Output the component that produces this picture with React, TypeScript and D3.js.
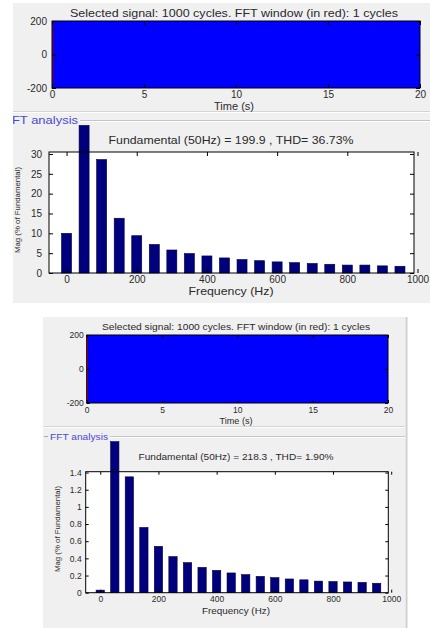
import React, { useRef, useEffect } from "react"
import * as d3 from "d3"

// harmonic frequencies (Hz) shown in both spectra
const harmonicFreq = [0, 50, 100, 150, 200, 250, 300, 350, 400, 450, 500, 550, 600, 650, 700, 750, 800, 850, 900, 950]

// magnitudes, % of fundamental
const magBefore = [10, 37.2, 28.6, 13.8, 9.4, 7.2, 5.8, 4.9, 4.3, 3.8, 3.4, 3.1, 2.8, 2.6, 2.4, 2.2, 2.0, 2.0, 1.8, 1.7]
const magAfter = [0.03, 1.76, 1.35, 0.76, 0.54, 0.42, 0.35, 0.295, 0.26, 0.23, 0.21, 0.19, 0.175, 0.16, 0.15, 0.135, 0.13, 0.125, 0.12, 0.11]

// signal envelope (1000 cycles squeezed into the axes -> solid band)
const signalTime = [0, 20]
const envelopeBefore = [273, 273]
const envelopeAfter = [218.3, 218.3]
const fftWindow = [0, 0.02]

const timeTicks = [0, 5, 10, 15, 20]
const signalTicks = [-200, 0, 200]
const freqTicks = [0, 200, 400, 600, 800, 1000]
const magTicksBefore = [0, 5, 10, 15, 20, 25, 30]
const magTicksAfter = [0, 0.2, 0.4, 0.6, 0.8, 1, 1.2, 1.4]

const signalTitle = "Selected signal: 1000 cycles. FFT window (in red): 1 cycles"
const titleBefore = "Fundamental (50Hz) = 199.9 , THD= 36.73%"
const titleAfter = "Fundamental (50Hz) = 218.3 , THD= 1.90%"

const FONT = "'Liberation Sans', Arial, sans-serif"
const TEXT = "#2a2a2a"

const label = (g, x, y, fs, len, txt) => {
    let t = g.append("text")
        .attr("x", x).attr("y", y)
        .attr("text-anchor", "middle")
        .attr("font-size", fs).attr("fill", TEXT)
        .text(txt)
    if (len) t.attr("textLength", len).attr("lengthAdjust", "spacingAndGlyphs")
    return t
}

const frame = (g, x, y, o, xt, yt, fmt) => {
    let tl = o.tick
    let axisX = g.append("g").attr("transform", `translate(0,${o.bottom})`)
        .call(d3.axisBottom(x).tickValues(xt).tickSize(-tl).tickPadding(o.padX).tickFormat(d => d))
    let axisX2 = g.append("g").attr("transform", `translate(0,${o.top})`)
        .call(d3.axisTop(x).tickValues(xt).tickSize(-tl).tickFormat(() => ""))
    let axisY = g.append("g").attr("transform", `translate(${o.left},0)`)
        .call(d3.axisLeft(y).tickValues(yt).tickSize(-tl).tickPadding(o.padY).tickFormat(fmt))
    let axisY2 = g.append("g").attr("transform", `translate(${o.right},0)`)
        .call(d3.axisRight(y).tickValues(yt).tickSize(-tl).tickFormat(() => ""))
    for (let a of [axisX, axisX2, axisY, axisY2]) {
        a.select(".domain").remove()
        a.selectAll("line").attr("stroke", "#000")
        a.selectAll("text").attr("font-size", o.tfs).attr("fill", TEXT).attr("font-family", FONT)
    }
    g.append("rect")
        .attr("x", o.left).attr("y", o.top)
        .attr("width", o.right - o.left).attr("height", o.bottom - o.top)
        .attr("fill", "none").attr("stroke", "#000").attr("stroke-width", 1)
}

const drawSignal = (svg, o, envelope) => {
    let x = d3.scaleLinear().domain([0, 20]).range([o.left, o.right])
    let y = d3.scaleLinear().domain([-200, 200]).range([o.bottom, o.top])
    let g = svg.append("g")
    let clipId = "clip" + o.id
    g.append("clipPath").attr("id", clipId)
        .append("rect")
        .attr("x", o.left).attr("y", o.top)
        .attr("width", o.right - o.left).attr("height", o.bottom - o.top)

    let rows = signalTime.map((t, i) => ({t, v: envelope[i]}))
    let area = d3.area()
        .x(d => x(d.t))
        .y0(d => y(-d.v))
        .y1(d => y(d.v))

    g.append("rect")
        .attr("x", o.left).attr("y", o.top)
        .attr("width", o.right - o.left).attr("height", o.bottom - o.top)
        .attr("fill", "white")
    g.append("path").datum(rows)
        .attr("clip-path", `url(#${clipId})`)
        .attr("d", area)
        .attr("fill", "#0000ff")
    g.append("path").datum(fftWindow.map(t => ({t, v: envelope[0]})))
        .attr("clip-path", `url(#${clipId})`)
        .attr("d", area)
        .attr("fill", "#b00000")
        .attr("stroke", "#b00000")
        .attr("stroke-width", 1.6)

    frame(g, x, y, o, timeTicks, signalTicks, d => d)

    label(g, o.cx, o.titleY, o.fs, o.titleLen, signalTitle)
    label(g, o.cx, o.xlabY, o.fs, o.xlabLen, "Time (s)")
}

const drawFft = (svg, o, mags, title, yMax, yt) => {
    let x = d3.scaleLinear().domain([-50, 990]).range([o.left, o.right])
    let y = d3.scaleLinear().domain([0, yMax]).range([o.bottom, o.top])
    let g = svg.append("g")

    g.append("rect")
        .attr("x", o.left).attr("y", o.top)
        .attr("width", o.right - o.left).attr("height", o.bottom - o.top)
        .attr("fill", "white")

    let bw = (x(50) - x(0)) * 0.57
    g.selectAll(".bar")
        .data(harmonicFreq.map((f, i) => ({f, m: mags[i]})))
        .enter()
        .append("rect")
            .attr("x", d => x(d.f) - bw / 2)
            .attr("y", d => y(d.m))
            .attr("width", bw)
            .attr("height", d => y(0) - y(d.m))
            .attr("fill", "#00007f")
            .attr("stroke", "#000033")
            .attr("stroke-width", 0.6)

    frame(g, x, y, o, freqTicks, yt, d => d3.format("~g")(d))

    label(g, o.cx, o.titleY, o.fs, o.titleLen, title)
    label(g, o.cx, o.xlabY, o.fs, o.xlabLen, "Frequency (Hz)")
    label(g, 0, 0, 7.5, o.ylabLen, "Mag (% of Fundamental)")
        .attr("transform", `translate(${o.ylabX},${o.ylabCy}) rotate(-90)`)
}

const panelBox = (svg, b) => {
    svg.append("rect")
        .attr("x", b.x0).attr("y", b.y0)
        .attr("width", b.x1 - b.x0).attr("height", b.y1 - b.y0)
        .attr("fill", "#f0f0f0")
    // separator between signal and FFT parts
    svg.append("line").attr("x1", b.x0).attr("x2", b.x1).attr("y1", b.sep).attr("y2", b.sep)
        .attr("stroke", "#d4d4d4")
    svg.append("line").attr("x1", b.x0).attr("x2", b.x1).attr("y1", b.sep + 1).attr("y2", b.sep + 1)
        .attr("stroke", "#ffffff")
    // "FFT analysis" group frame
    if (b.dash1) {
        svg.append("line").attr("x1", b.x0 + 1).attr("x2", b.dash1).attr("y1", b.lab).attr("y2", b.lab)
            .attr("stroke", "#a8a8a8")
    }
    svg.append("line").attr("x1", b.labEnd + 2).attr("x2", b.x1).attr("y1", b.lab).attr("y2", b.lab)
        .attr("stroke", "#c4c4c4")
    svg.append("line").attr("x1", b.labEnd + 2).attr("x2", b.x1).attr("y1", b.lab + 1).attr("y2", b.lab + 1)
        .attr("stroke", "#ffffff")
    svg.append("text")
        .attr("x", b.labEnd).attr("y", b.lab + b.labFs * 0.36)
        .attr("text-anchor", "end")
        .attr("font-size", b.labFs).attr("fill", "#4a4ad0")
        .attr("textLength", b.labLen).attr("lengthAdjust", "spacingAndGlyphs")
        .text("FFT analysis")
    if (b.edge) {
        svg.append("line").attr("x1", b.x1 + 1.5).attr("x2", b.x1 + 1.5).attr("y1", b.y0).attr("y2", b.y1)
            .attr("stroke", "#d0d0d0").attr("stroke-width", 2)
    }
}

const App = () => {
    let element = useRef(null)

    useEffect(() => {
        let svg = d3.select(element.current)
        svg.selectAll("*").remove()
        svg.attr("font-family", FONT)

        panelBox(svg, {x0: 13, x1: 430, y0: 3, y1: 303, sep: 111.5, lab: 120.5, labEnd: 78, labFs: 10.5, labLen: 74, edge: false})
        panelBox(svg, {x0: 43, x1: 405, y0: 317, y1: 628, sep: 426.5, lab: 436.5, labEnd: 108, dash1: 48, labFs: 9, labLen: 58, edge: true})
        // the top screenshot is cropped at its left edge
        svg.append("rect").attr("x", 0).attr("y", 0).attr("width", 13).attr("height", 310).attr("fill", "white")

        drawSignal(svg, {id: "a", left: 52, right: 420, top: 21, bottom: 88, fs: 10.5, tfs: 10, tick: 4,
            padX: 3, padY: 5, cx: 234, titleY: 17, titleLen: 328, xlabY: 110, xlabLen: 40}, envelopeBefore)
        drawSignal(svg, {id: "b", left: 86.7, right: 388, top: 335, bottom: 403, fs: 9, tfs: 8.5, tick: 3,
            padX: 3.5, padY: 3, cx: 236, titleY: 329.5, titleLen: 268, xlabY: 424, xlabLen: 33}, envelopeAfter)

        drawFft(svg, {left: 49, right: 414, top: 152, bottom: 273, fs: 10.5, tfs: 10, tick: 4, padX: 3, padY: 7,
            cx: 231, titleY: 144, titleLen: 245, xlabY: 294.5, xlabLen: 85, ylabX: 20, ylabCy: 210, ylabLen: 86},
            magBefore, titleBefore, 30.5, magTicksBefore)
        drawFft(svg, {left: 85.7, right: 388.3, top: 471.7, bottom: 592.7, fs: 9, tfs: 8.5, tick: 3, padX: 3.5, padY: 4,
            cx: 236, titleY: 460, titleLen: 195, xlabY: 614, xlabLen: 68, ylabX: 60, ylabCy: 529, ylabLen: 86},
            magAfter, titleAfter, 1.41, magTicksAfter)
    }, [])

    return (
        <svg ref={element} width={430} height={628}
            style={{position: "absolute", left: 0, top: 0, background: "white"}} />
    )
}

export default App
